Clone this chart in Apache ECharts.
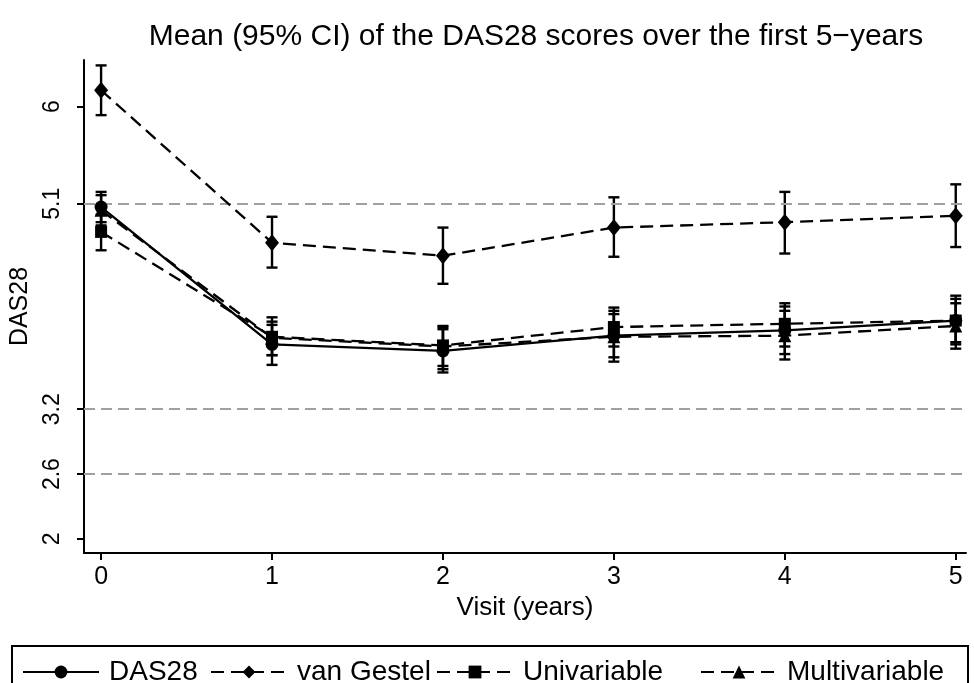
<!DOCTYPE html>
<html>
<head>
<meta charset="utf-8">
<script src="https://cdn.jsdelivr.net/npm/echarts@6/dist/echarts.min.js"></script>
<style>html,body{margin:0;padding:0;background:#fff}#c{width:974px;height:683px}</style>
</head>
<body>
<div id="c"></div>
<script>
// ---- data ----
const visits = [0, 1, 2, 3, 4, 5];
const xTickLabels = [0, 1, 2, 3, 4, 5];
const yTickLabels = [2, 2.6, 3.2, 5.1, 6];
const refLines = [5.1, 3.2, 2.6];

const das28Mean = [5.07, 3.80, 3.74, 3.88, 3.93, 4.02];
const das28Lo   = [4.93, 3.61, 3.54, 3.68, 3.71, 3.80];
const das28Hi   = [5.21, 3.98, 3.94, 4.08, 4.15, 4.25];

const gestelMean = [6.15, 4.74, 4.62, 4.88, 4.93, 4.99];
const gestelLo   = [5.92, 4.51, 4.36, 4.61, 4.64, 4.70];
const gestelHi   = [6.38, 4.98, 4.88, 5.16, 5.21, 5.28];

const uniMean = [4.84, 3.87, 3.79, 3.96, 3.99, 4.02];
const uniLo   = [4.67, 3.70, 3.60, 3.78, 3.78, 3.82];
const uniHi   = [5.00, 4.05, 3.97, 4.14, 4.18, 4.22];

const multiMean = [5.04, 3.86, 3.78, 3.87, 3.88, 3.97];
const multiLo   = [4.90, 3.70, 3.57, 3.64, 3.66, 3.76];
const multiHi   = [5.18, 4.01, 3.96, 4.11, 4.11, 4.18];

const seriesNames = ['DAS28', 'van Gestel', 'Univariable', 'Multivariable'];

// ---- chart ----
const FONT = '"Liberation Sans", Arial, Helvetica, sans-serif';
const chart = echarts.init(document.getElementById('c'), null, {renderer: 'canvas'});

function pairs(xs, ys) { return xs.map((x, i) => [x, ys[i]]); }
function triples(xs, lo, hi) { return xs.map((x, i) => [x, lo[i], hi[i]]); }

function errRender(params, api) {
  const x = api.value(0), lo = api.value(1), hi = api.value(2);
  const a = api.coord([x, lo]), b = api.coord([x, hi]);
  const w = 5.5;
  const st = {stroke: '#000', lineWidth: 2.4};
  return {type: 'group', children: [
    {type: 'line', shape: {x1: a[0], y1: a[1], x2: b[0], y2: b[1]}, style: st},
    {type: 'line', shape: {x1: a[0] - w, y1: a[1], x2: a[0] + w, y2: a[1]}, style: st},
    {type: 'line', shape: {x1: b[0] - w, y1: b[1], x2: b[0] + w, y2: b[1]}, style: st}
  ]};
}

const DASH = [13, 7];
function lineSeries(name, mean, symbol, size, dashed) {
  return {
    name: name, type: 'line', data: pairs(visits, mean),
    symbol: symbol, symbolSize: size, showSymbol: true,
    itemStyle: {color: '#000', borderWidth: 0},
    lineStyle: {color: '#000', width: 2.3, type: dashed ? DASH : 'solid'},
    emphasis: {disabled: true}, animation: false, z: 5
  };
}
function errSeries(lo, hi) {
  return {type: 'custom', renderItem: errRender, data: triples(visits, lo, hi),
          silent: true, animation: false, z: 4};
}

const legendLeft = [22, 210, 436, 700];
function legendFor(name, i) {
  return {
    data: [name], left: legendLeft[i], top: 658, orient: 'horizontal',
    itemWidth: 76, itemHeight: 16, padding: 0,
    textStyle: {fontFamily: FONT, fontSize: 28, color: '#000', padding: [0, 0, 0, 5]},
    selectedMode: false
  };
}

const option = {
  backgroundColor: '#fff',
  animation: false,
  title: {
    text: 'Mean (95% CI) of the DAS28 scores over the first 5\u2212years',
    left: 531, textAlign: 'center', top: 17,
    textStyle: {fontFamily: FONT, fontSize: 30, fontWeight: 'normal', color: '#000'}
  },
  grid: {left: 84, right: 8, top: 60, bottom: 130, containLabel: false, outerBoundsMode: 'none'},
  xAxis: {
    type: 'value', min: -0.1, max: 5.06,
    name: 'Visit (years)', nameLocation: 'middle', nameGap: 42,
    nameTextStyle: {fontFamily: FONT, fontSize: 26, color: '#000'},
    axisLine: {show: true, onZero: false, lineStyle: {color: '#000', width: 2}},
    axisTick: {show: true, length: 7, lineStyle: {color: '#000', width: 2}, customValues: xTickLabels},
    axisLabel: {fontFamily: FONT, fontSize: 25, color: '#000', margin: 12, customValues: xTickLabels},
    splitLine: {show: false}
  },
  yAxis: {
    type: 'value', min: 1.87, max: 6.43,
    name: 'DAS28', nameLocation: 'middle', nameGap: 40, nameRotate: 90,
    nameTextStyle: {fontFamily: FONT, fontSize: 25, color: '#000'},
    axisLine: {show: true, onZero: false, lineStyle: {color: '#000', width: 2}},
    axisTick: {show: true, length: 7, lineStyle: {color: '#000', width: 2}, customValues: yTickLabels},
    axisLabel: {fontFamily: FONT, fontSize: 23, color: '#000', rotate: 90, margin: 20, customValues: yTickLabels},
    splitLine: {show: false}
  },
  legend: seriesNames.map(legendFor),
  graphic: [{
    type: 'rect', shape: {x: 12, y: 646, width: 956, height: 60},
    style: {fill: 'none', stroke: '#000', lineWidth: 2}, silent: true, z: -1
  }],
  series: [
    {
      type: 'line', data: [], silent: true, animation: false,
      markLine: {
        silent: true, symbol: 'none', animation: false,
        label: {show: false},
        lineStyle: {color: '#a0a0a0', width: 2, type: [11, 6]},
        data: refLines.map(v => ({yAxis: v}))
      }
    },
    errSeries(das28Lo, das28Hi),
    errSeries(gestelLo, gestelHi),
    errSeries(uniLo, uniHi),
    errSeries(multiLo, multiHi),
    lineSeries('DAS28', das28Mean, 'circle', 13, false),
    lineSeries('van Gestel', gestelMean, 'diamond', [14, 17], true),
    lineSeries('Univariable', uniMean, 'rect', 12, true),
    lineSeries('Multivariable', multiMean, 'triangle', 13, true)
  ]
};
chart.setOption(option);
</script>
</body>
</html>
